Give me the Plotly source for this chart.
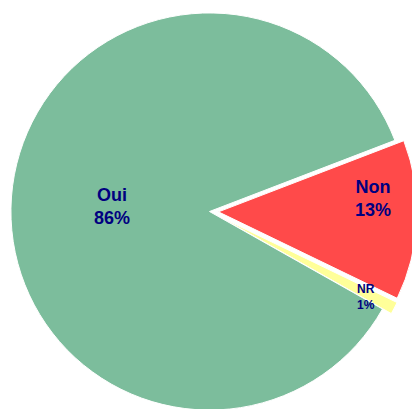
import plotly.graph_objects as go

labels = ["Non", "NR", "Oui"]
values = [13, 1, 86]
pulls = [0.045, 0.05, 0]
colors = ["#ff4a4a", "#ffff99", "#7cbd9c"]
font_sizes = [18, 12, 18]
# label anchor points (paper fractions) for each slice's text
label_x = [0.892, 0.875, 0.266]
label_y = [0.530, 0.295, 0.513]

total = sum(values)
fig = go.Figure(go.Pie(
    labels=labels,
    values=values,
    sort=False,
    direction="clockwise",
    rotation=69,
    pull=pulls,
    marker=dict(colors=colors, line=dict(color="white", width=1)),
    textinfo="none",
    hoverinfo="label+percent",
    showlegend=False,
    domain=dict(x=[0, 1], y=[0, 1]),
))

for lab, val, fs, x, y in zip(labels, values, font_sizes, label_x, label_y):
    fig.add_annotation(
        x=x, y=y, xref="paper", yref="paper",
        text=f"<b>{lab}<br>{round(100 * val / total)}%</b>",
        showarrow=False,
        font=dict(family="Liberation Sans, Arial, sans-serif", color="#000080", size=fs),
        xanchor="center", yanchor="middle", align="center",
    )

fig.update_layout(
    width=418, height=420,
    margin=dict(l=1, r=0, t=3, b=0),
    paper_bgcolor="white",
)

fig.write_html(
    "out.html",
    config={"displayModeBar": False},
    post_script="document.body.style.margin='0';document.body.style.overflow='hidden';",
)
